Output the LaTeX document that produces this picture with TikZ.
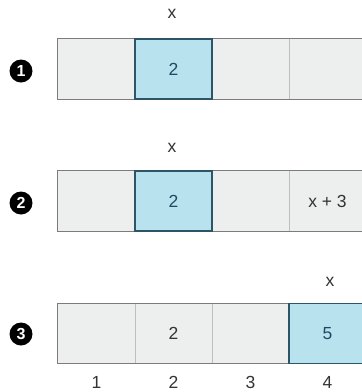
\documentclass[tikz,border=0pt]{standalone}
\usepackage{fontspec}
\setmainfont{Liberation Sans}
\usetikzlibrary{positioning}

\definecolor{cellgray}{HTML}{EDEEEE}
\definecolor{cellsep}{HTML}{BEBEBE}
\definecolor{rowframe}{HTML}{7C7C7C}
\definecolor{hifill}{HTML}{B9E2EF}
\definecolor{hiline}{HTML}{2D5567}
\definecolor{hitext}{HTML}{1E4B60}
\definecolor{txtgray}{HTML}{333333}

\tikzset{
  cell/.style={fill=cellgray, minimum width=77pt, minimum height=60pt,
    inner sep=0pt, text=txtgray},
  hicell/.style={cell, draw=hiline, fill=hifill, text=hitext, line width=1.3pt},
  sepline/.style={draw=cellsep, line width=0.9pt},
  frameline/.style={draw=rowframe, line width=1.3pt},
  stepmark/.style={circle, fill=black, text=white, inner sep=0pt,
    minimum size=23pt, font=\bfseries\fontsize{16}{16}\selectfont},
  varlabel/.style={text=txtgray, inner sep=0pt}
}

\begin{document}
\begin{tikzpicture}[x=1pt,y=-1pt,font=\fontsize{17.5}{20}\selectfont]
  \clip (0,0) rectangle (362,392);

  % cell centres
  \def\xa{96.5}
  \def\xb{173.5}
  \def\xc{250.5}
  \def\xd{327.5}

  % row 1
  \node[cell] (ra1) at (\xa,69) {};
  \node[cell] (ra3) at (\xc,69) {};
  \node[cell] (ra4) at (\xd,69) {};
  \draw[sepline] (ra3.north east) -- (ra3.south east);
  \draw[frameline] (ra1.north west) rectangle (ra4.south east);
  \node[hicell] (ra2) at (\xb,69) {2};
  \node[stepmark] (sa) at (21,71) {1};
  \node[varlabel] (xa) at (172,14) {x};

  % row 2
  \node[cell] (rb1) at (\xa,201) {};
  \node[cell] (rb3) at (\xc,201) {};
  \node[cell] (rb4) at (\xd,201) {x + 3};
  \draw[sepline] (rb3.north east) -- (rb3.south east);
  \draw[frameline] (rb1.north west) rectangle (rb4.south east);
  \node[hicell] (rb2) at (\xb,201) {2};
  \node[stepmark] (sb) at (21,203) {2};
  \node[varlabel] (xb) at (172,148) {x};

  % row 3
  \node[cell] (rc1) at (\xa,333.5) {};
  \node[cell] (rc2) at (\xb,333.5) {2};
  \node[cell] (rc3) at (\xc,333.5) {};
  \coordinate (rcend) at (366,363.5);
  \draw[sepline] (rc1.north east) -- (rc1.south east);
  \draw[sepline] (rc2.north east) -- (rc2.south east);
  \draw[frameline] (rc1.north west) rectangle (rcend);
  \node[hicell] (rc4) at (\xd,333.5) {5};
  \node[stepmark] (sc) at (21,334) {3};
  \node[varlabel] (xc) at (330,282) {x};

  % indices below the last row
  \foreach \i/\cx in {1/\xa,2/\xb,3/\xc,4/\xd}
    \node[varlabel] (idx\i) at (\cx,382) {\i};
\end{tikzpicture}
\end{document}
